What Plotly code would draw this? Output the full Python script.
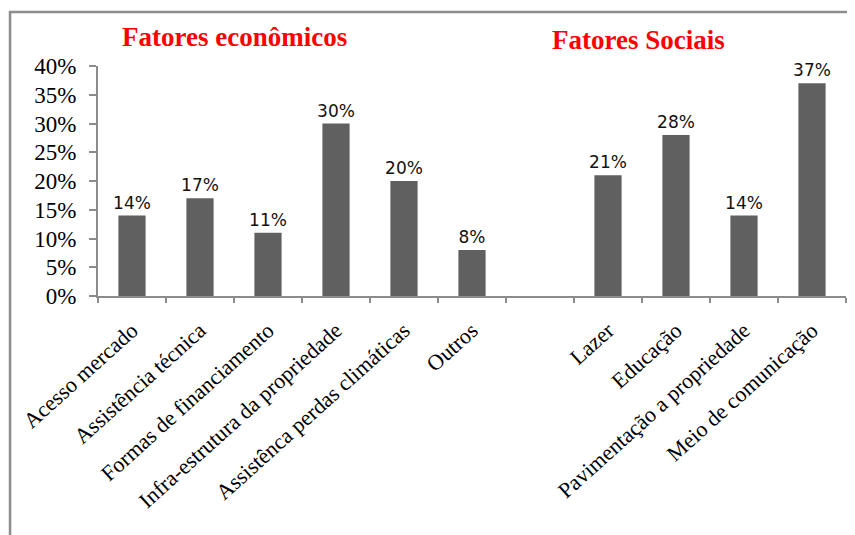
import plotly.graph_objects as go

categories = ["Acesso mercado", "Assistência técnica", "Formas de financiamento",
              "Infra-estrutura da propriedade", "Assistênca perdas climáticas", "Outros",
              " ", "Lazer", "Educação", "Pavimentação a propriedade", "Meio de comunicação"]
values = [0.14, 0.17, 0.11, 0.30, 0.20, 0.08, None, 0.21, 0.28, 0.14, 0.37]
y_ticks = [0, 0.05, 0.10, 0.15, 0.20, 0.25, 0.30, 0.35, 0.40]
y_tick_labels = ["0%", "5%", "10%", "15%", "20%", "25%", "30%", "35%", "40%"]
group_titles = ["Fatores econômicos", "Fatores Sociais"]

grey = "#8c8c8c"
fig = go.Figure(go.Bar(
    x=categories, y=values,
    marker=dict(color="#606060", line=dict(width=0)),
    texttemplate="%{y:.0%}", textposition="outside", constraintext="none",
    textfont=dict(family="DejaVu Sans", size=17, color="#111111"),
    cliponaxis=False,
))

fig.update_layout(
    width=847, height=527,
    margin=dict(l=90, r=9, t=58, b=239, autoexpand=False),
    paper_bgcolor="white", plot_bgcolor="white",
    bargap=0.6, showlegend=False,
    xaxis=dict(type="category", tickson="boundaries", ticks="outside", ticklen=5,
               tickcolor=grey, tickwidth=2, showline=True, linecolor=grey, linewidth=2,
               tickangle=-42, showgrid=False, automargin=False, ticklabelstandoff=11,
               tickfont=dict(family="Liberation Serif", size=22, color="#000000")),
    yaxis=dict(range=[0, 0.40], tickvals=y_ticks, ticktext=y_tick_labels,
               ticks="outside", ticklen=7, tickcolor=grey, tickwidth=2, automargin=False,
               ticklabelstandoff=8,
               showline=True, linecolor=grey, linewidth=2, showgrid=False, zeroline=False,
               tickfont=dict(family="Liberation Serif", size=23, color="#000000")),
    shapes=[dict(type="rect", xref="paper", yref="paper",
                 x0=-0.1176, x1=1.05, y0=-1.1, y1=1.2348,
                 line=dict(color=grey, width=2.5), fillcolor="rgba(0,0,0,0)", layer="below")],
    annotations=[
        dict(text="<b>" + group_titles[0] + "</b>", xref="paper", yref="paper",
             x=0.183, y=1.126, showarrow=False, xanchor="center", yanchor="middle",
             font=dict(family="Liberation Serif", size=27, color="#ff0000")),
        dict(text="<b>" + group_titles[1] + "</b>", xref="paper", yref="paper",
             x=0.722, y=1.113, showarrow=False, xanchor="center", yanchor="middle",
             font=dict(family="Liberation Serif", size=27, color="#ff0000")),
    ],
)

fig.write_html("out.html")
